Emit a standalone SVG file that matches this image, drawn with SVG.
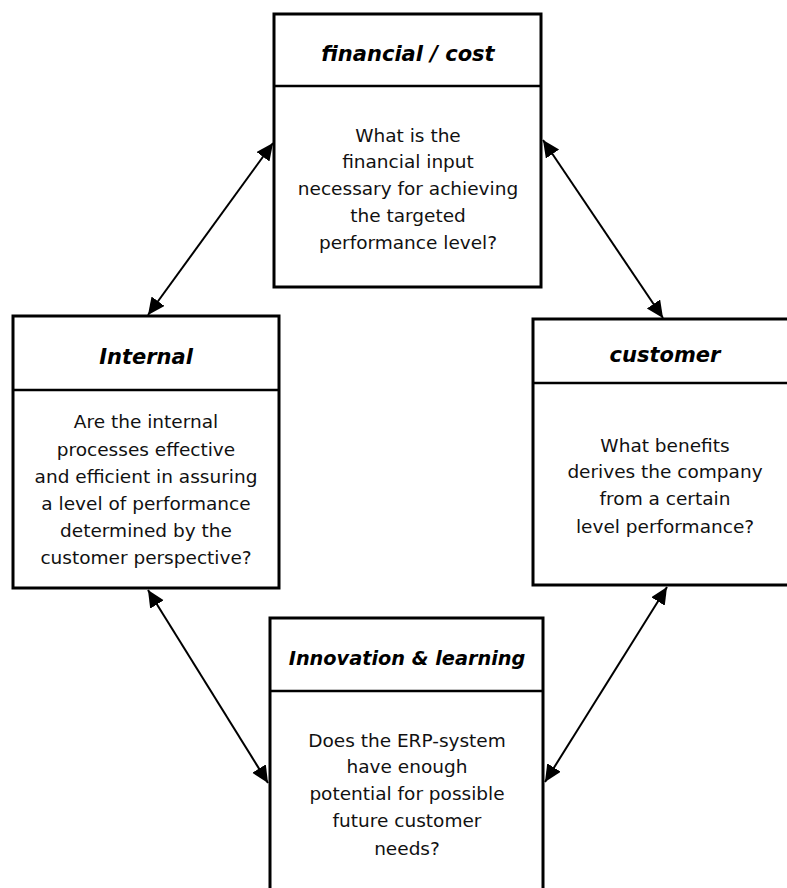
<svg xmlns="http://www.w3.org/2000/svg" width="787" height="888" viewBox="0 0 787 888">
<style>
.box{fill:#fff;stroke:#000;stroke-width:3}
.div{stroke:#000;stroke-width:2.5}
.hd{font-family:"DejaVu Sans",sans-serif;font-weight:bold;font-style:italic;font-size:21px;text-anchor:middle;fill:#000}
.bd{font-family:"DejaVu Sans",sans-serif;font-size:18.5px;text-anchor:middle;fill:#111}
.con{stroke:#000;stroke-width:2;fill:none;marker-start:url(#ah);marker-end:url(#ah)}
</style>
<defs>
<marker id="ah" markerUnits="userSpaceOnUse" markerWidth="20" markerHeight="18" refX="17" refY="8" orient="auto-start-reverse">
<path d="M0,0 L17,8 L0,16 z" fill="#000"/>
</marker>
</defs>
<rect width="787" height="888" fill="#fff"/>
<g id="connectors">
<line class="con" x1="273" y1="143" x2="148" y2="315"/>
<line class="con" x1="543" y1="140" x2="663" y2="318"/>
<line class="con" x1="148" y1="590" x2="268" y2="783"/>
<line class="con" x1="667" y1="587" x2="545" y2="782"/>
</g>
<g id="financial">
<rect class="box" x="274" y="14" width="267" height="273"/>
<line class="div" x1="274" y1="86" x2="541" y2="86"/>
<text class="hd" x="408" y="61">financial / cost</text>
<text class="bd" x="408" y="141.5">What is the</text>
<text class="bd" x="408" y="168.3">financial input</text>
<text class="bd" x="408" y="195">necessary for achieving</text>
<text class="bd" x="408" y="222">the targeted</text>
<text class="bd" x="408" y="249">performance level?</text>
</g>
<g id="internal">
<rect class="box" x="13" y="316" width="266" height="272"/>
<line class="div" x1="13" y1="390" x2="279" y2="390"/>
<text class="hd" x="146" y="364">Internal</text>
<text class="bd" x="146" y="428">Are the internal</text>
<text class="bd" x="146" y="456">processes effective</text>
<text class="bd" x="146" y="483">and efficient in assuring</text>
<text class="bd" x="146" y="510">a level of performance</text>
<text class="bd" x="146" y="537">determined by the</text>
<text class="bd" x="146" y="564">customer perspective?</text>
</g>
<g id="customer">
<rect class="box" x="533" y="319" width="264" height="266"/>
<line class="div" x1="533" y1="383" x2="797" y2="383"/>
<text class="hd" x="665" y="362">customer</text>
<text class="bd" x="665" y="452">What benefits</text>
<text class="bd" x="665" y="478">derives the company</text>
<text class="bd" x="665" y="505">from a certain</text>
<text class="bd" x="665" y="533">level performance?</text>
</g>
<g id="innovation">
<rect class="box" x="270" y="618" width="273" height="290"/>
<line class="div" x1="270" y1="691" x2="543" y2="691"/>
<text class="hd" x="407" y="665" style="font-size:19.3px">Innovation &amp; learning</text>
<text class="bd" x="407" y="747">Does the ERP-system</text>
<text class="bd" x="407" y="773">have enough</text>
<text class="bd" x="407" y="800">potential for possible</text>
<text class="bd" x="407" y="827">future customer</text>
<text class="bd" x="407" y="855">needs?</text>
</g>
</svg>
